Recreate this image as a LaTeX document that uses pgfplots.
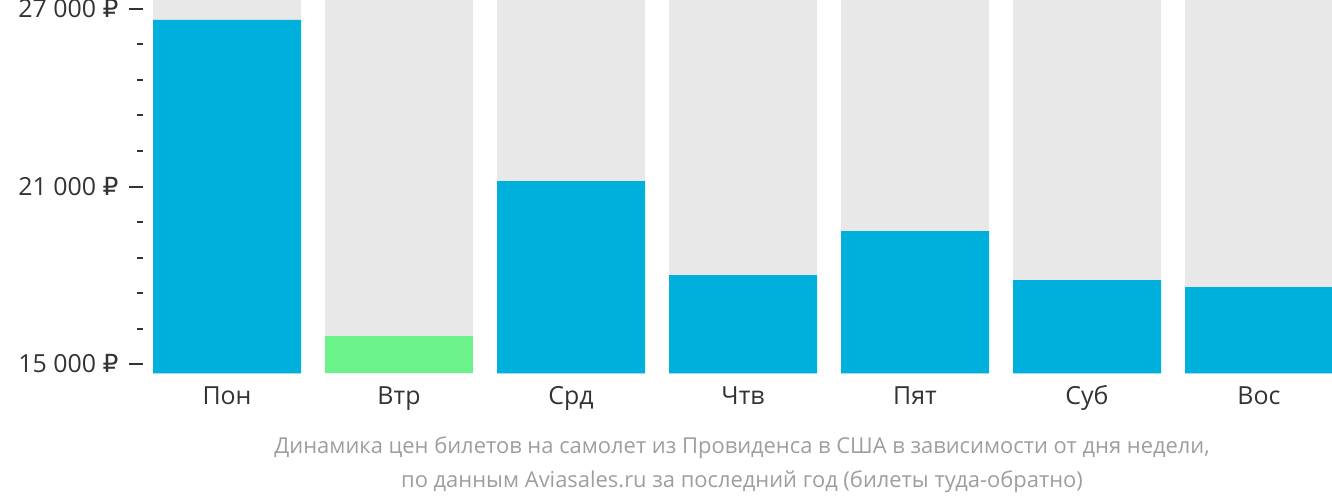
\documentclass[border=0pt]{standalone}
\usepackage{pgfplots}
\pgfplotsset{compat=1.18}
\usepackage{fontspec}
\setmainfont{Open Sans}
\newfontfamily\rub{DejaVu Sans}
\definecolor{barblue}{HTML}{00B0DC}
\definecolor{bargreen}{HTML}{6CF28A}
\definecolor{bggray}{HTML}{E8E8E8}
\definecolor{textdark}{HTML}{333333}
\definecolor{capgray}{HTML}{9E9E9E}
\begin{document}
\begin{tikzpicture}
\begin{axis}[
  scale only axis, width=1189bp, height=373.3bp,
  xmin=-0.48837, xmax=6.4244, ymin=14686, ymax=27304,
  axis line style={draw=none},
  scaled y ticks=false,
  ytick pos=left, xtick pos=bottom,
  ytick={15000,21000,27000}, yticklabels={15 000 {\rub ₽},21 000 {\rub ₽},27 000 {\rub ₽}},
  minor y tick num=4,
  xtick={0,1,2,3,4,5,6}, xticklabels={Пон,Втр,Срд,Чтв,Пят,Суб,Вос},
  tick align=outside,
  major tick length=14.4bp, minor tick length=6bp,
  x tick style={draw=none},
  y tick style={line width=2bp, color=textdark},
  yticklabel style={font=\fontsize{25}{30}\selectfont, text=textdark, inner sep=0pt, xshift=-10bp},
  xticklabel style={font=\fontsize{25}{30}\selectfont, text=textdark, inner sep=0pt, anchor=base, yshift=-16.6bp},
  ybar, bar width=0.8605, bar shift=0pt,
  clip=true,
]
\addplot[fill=bggray, draw=none] coordinates {(0,27304) (1,27304) (2,27304) (3,27304) (4,27304) (5,27304) (6,27304)};
\addplot[fill=barblue, draw=none] coordinates {(0,26628) (2,21185) (3,18007) (4,19495) (5,17838) (6,17601)};
\addplot[fill=bargreen, draw=none] coordinates {(1,15945)};
\end{axis}
\node[anchor=base, font=\fontsize{22}{30}\selectfont, text=capgray, inner sep=0pt] at ([xshift=599bp,yshift=-79.7bp]current axis.south west) {Динамика цен билетов на самолет из Провиденса в США в зависимости от дня недели,};
\node[anchor=base, font=\fontsize{22}{30}\selectfont, text=capgray, inner sep=0pt] at ([xshift=599bp,yshift=-113.7bp]current axis.south west) {по данным Aviasales.ru за последний год (билеты туда-обратно)};
\pgfresetboundingbox
\path[use as bounding box] ([xshift=-143bp,yshift=-128.7bp]current axis.south west) rectangle (current axis.north east);
\end{tikzpicture}
\end{document}
